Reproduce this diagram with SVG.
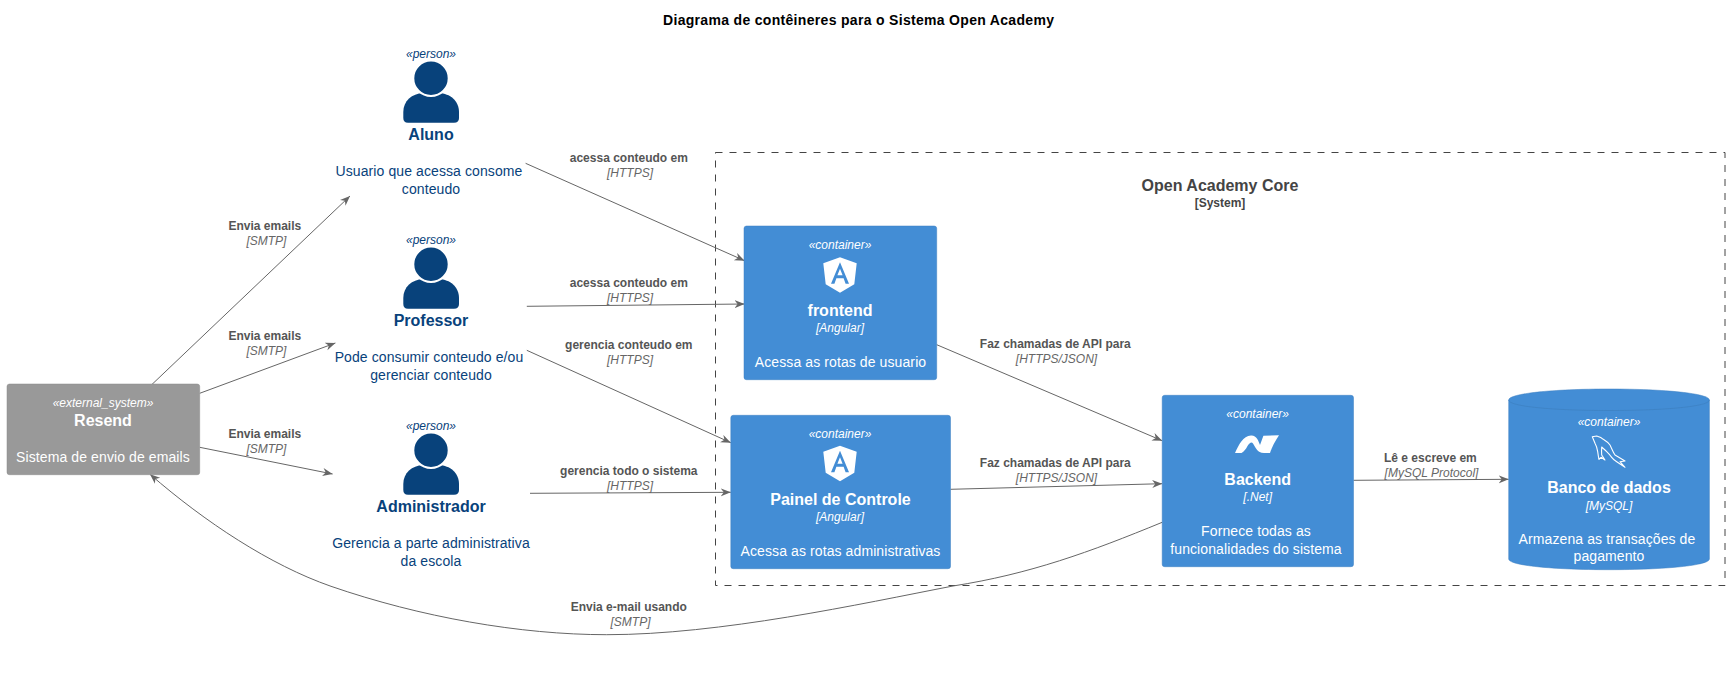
<svg xmlns="http://www.w3.org/2000/svg" width="1730" height="673" viewBox="0 0 1730 673">
<style>
text{font-family:"Liberation Sans",Arial,sans-serif;text-anchor:middle}
.title{font-size:14px;font-weight:bold;fill:#000}
.st{font-size:12px;font-style:italic}
.nm{font-size:16px;font-weight:bold}
.ds{font-size:14px;letter-spacing:.1px}
.w{fill:#fff}
.p{fill:#08427B}
.lb{font-size:12px;font-weight:bold;fill:#555}
.tc{font-size:12px;font-style:italic;fill:#666}
.box{fill:#438DD5;stroke:#3C7FC0;stroke-width:.5}
.cn{fill:none;stroke:#666;stroke-width:1;marker-end:url(#arr)}
</style>
<defs>
<marker id="arr" markerUnits="userSpaceOnUse" markerWidth="12" markerHeight="10" refX="10" refY="4" orient="auto"><path d="M10,4 L0,0 L3,4 L0,8 Z" fill="#666"/></marker>
<g id="person-icon">
<path d="M408,122.7 Q403.3,122.7 403.3,118 L403.3,112 C403.3,101 412,93.3 423,93.3 L439,93.3 C450,93.3 459,101 459,112 L459,118 Q459,122.7 454,122.7 Z" fill="#08427B"/>
<circle cx="431" cy="78.3" r="17.7" fill="#08427B" stroke="#fff" stroke-width="2"/>
</g>
<path id="angular-icon" fill="#fff" fill-rule="evenodd" d="M0,0 L16.7,6 L14.3,27 L0,35.5 L-14.3,27 L-16.7,6 Z M0,5 L-9,26.5 L-5.6,26.5 L-3.6,21 L3.6,21 L5.6,26.5 L9,26.5 Z M0,11.5 L2.6,18 L-2.6,18 Z"/>
</defs>
<text class="title" x="858.5" y="25" textLength="391">Diagrama de contêineres para o Sistema Open Academy</text>
<g id="boundary">
<rect x="715.5" y="152.5" width="1009.5" height="433" fill="none" stroke="#444" stroke-width="1" stroke-dasharray="7,7"/>
<text x="1220" y="190.5" font-size="16" font-weight="bold" fill="#444">Open Academy Core</text>
<text x="1220" y="207" font-size="12" font-weight="bold" fill="#444">[System]</text>
</g>
<g id="connectors">
<path class="cn" d="M151.7,384.7 L350,196"/>
<path class="cn" d="M199.7,393.3 L335.4,343"/>
<path class="cn" d="M199.7,447.3 L332.6,474"/>
<path class="cn" d="M525.6,163.3 L744.6,260.7"/>
<path class="cn" d="M526.8,306.3 L744.6,304"/>
<path class="cn" d="M526.8,350.3 L730.8,442.7"/>
<path class="cn" d="M530,493.3 L730.8,492.3"/>
<path class="cn" d="M936.7,344.7 L1162.2,440.7"/>
<path class="cn" d="M950.5,489.3 L1162.2,483.7"/>
<path class="cn" d="M1353.5,480.3 L1508.7,479.3"/>
<path class="cn" d="M1162.2,522.3 C1090,552 1030,574 953,586 C860,604 720,634.7 606.7,634.7 C520,634.7 420,617 331,586.3 C270,565 205,522 150,474.3"/>
<text class="lb" x="264.8" y="230">Envia emails</text><text class="tc" x="266.4" y="245">[SMTP]</text>
<text class="lb" x="264.8" y="340">Envia emails</text><text class="tc" x="266.4" y="355">[SMTP]</text>
<text class="lb" x="264.8" y="438">Envia emails</text><text class="tc" x="266.4" y="453">[SMTP]</text>
<text class="lb" x="628.8" y="162">acessa conteudo em</text><text class="tc" x="630" y="177">[HTTPS]</text>
<text class="lb" x="628.8" y="287">acessa conteudo em</text><text class="tc" x="630" y="302">[HTTPS]</text>
<text class="lb" x="628.8" y="349">gerencia conteudo em</text><text class="tc" x="630" y="364">[HTTPS]</text>
<text class="lb" x="628.8" y="475">gerencia todo o sistema</text><text class="tc" x="630" y="490">[HTTPS]</text>
<text class="lb" x="1055.3" y="348">Faz chamadas de API para</text><text class="tc" x="1056.5" y="363">[HTTPS/JSON]</text>
<text class="lb" x="1055.3" y="467">Faz chamadas de API para</text><text class="tc" x="1056.5" y="482">[HTTPS/JSON]</text>
<text class="lb" x="1430.4" y="462">Lê e escreve em</text><text class="tc" x="1431.5" y="477">[MySQL Protocol]</text>
<text class="lb" x="628.8" y="611">Envia e-mail usando</text><text class="tc" x="630.5" y="626">[SMTP]</text>
</g>
<g id="aluno">
<text class="st p" x="431" y="57.5">«person»</text>
<use href="#person-icon"/>
<text class="nm p" x="431" y="139.5">Aluno</text>
<text class="ds p" x="429" y="176">Usuario que acessa consome</text>
<text class="ds p" x="431" y="194">conteudo</text>
</g>
<g id="professor">
<text class="st p" x="431" y="243.5">«person»</text>
<use href="#person-icon" y="186"/>
<text class="nm p" x="431" y="325.5">Professor</text>
<text class="ds p" x="429" y="362">Pode consumir conteudo e/ou</text>
<text class="ds p" x="431" y="380">gerenciar conteudo</text>
</g>
<g id="administrador">
<text class="st p" x="431" y="429.5">«person»</text>
<use href="#person-icon" y="372"/>
<text class="nm p" x="431" y="511.5">Administrador</text>
<text class="ds p" x="431" y="548">Gerencia a parte administrativa</text>
<text class="ds p" x="431" y="566">da escola</text>
</g>
<g id="resend">
<rect x="7" y="384" width="192.7" height="90.7" rx="2.5" fill="#999" stroke="#8A8A8A" stroke-width=".5"/>
<text class="st w" x="103" y="406.5">«external_system»</text>
<text class="nm w" x="103" y="426">Resend</text>
<text class="ds w" x="103" y="462">Sistema de envio de emails</text>
</g>
<g id="frontend">
<rect class="box" x="744" y="226" width="192.7" height="153.7" rx="2.5"/>
<text class="st w" x="840" y="248.5">«container»</text>
<use href="#angular-icon" x="840" y="257.3"/>
<text class="nm w" x="840" y="315.5">frontend</text>
<text class="st w" x="840" y="332">[Angular]</text>
<text class="ds w" x="840.5" y="367">Acessa as rotas de usuario</text>
</g>
<g id="painel">
<rect class="box" x="730.8" y="415.3" width="219.7" height="153.4" rx="2.5"/>
<text class="st w" x="840" y="437.5">«container»</text>
<use href="#angular-icon" x="840" y="445.8"/>
<text class="nm w" x="840.5" y="505">Painel de Controle</text>
<text class="st w" x="840" y="521">[Angular]</text>
<text class="ds w" x="840.5" y="556">Acessa as rotas administrativas</text>
</g>
<g id="backend">
<rect class="box" x="1162.2" y="395.3" width="191.3" height="171.4" rx="2.5"/>
<text class="st w" x="1257.7" y="417.5">«container»</text>
<path fill="#fff" d="M1235,453 C1239,444 1243,436 1251,435.4 C1256.5,435 1258.5,441 1260,445 L1263.4,435.7 L1279,435.2 C1275,441 1272,447 1270,453 L1264,453 C1257,453 1255.5,447 1253,443.5 C1251.5,441.5 1249.5,443 1247.5,446 C1246,449 1244,451.5 1241.5,453 Z"/>
<text class="nm w" x="1257.7" y="485">Backend</text>
<text class="st w" x="1257.7" y="501">[.Net]</text>
<text class="ds w" x="1256" y="536">Fornece todas as</text>
<text class="ds w" x="1256" y="554">funcionalidades do sistema</text>
</g>
<g id="banco">
<path d="M1508.7,400 C1508.7,393.5 1553,389 1609,389 C1665,389 1709.4,393.5 1709.4,400 L1709.4,559 C1709.4,565.5 1665,569.7 1609,569.7 C1553,569.7 1508.7,565.5 1508.7,559 Z" fill="#438DD5" stroke="#3C7FC0" stroke-width=".5"/>
<path d="M1508.7,400 C1508.7,406.5 1553,410.5 1609,410.5 C1665,410.5 1709.4,406.5 1709.4,400" fill="none" stroke="#3C7FC0" stroke-width=".7"/>
<text class="st w" x="1609" y="425.5">«container»</text>
<path fill="none" stroke="#fff" stroke-width="1.1" stroke-linejoin="round" d="M1592.3,436.7 L1596.7,436 C1600,437 1602,438 1603.3,439.3 C1606,441 1608.5,443 1610,445 C1612,449 1613,452 1615,455 L1625,461 L1620,461.7 L1625,467.3 L1616.7,461.7 C1614,460 1613,459 1611.7,457.3 C1610,455 1608,453 1606.7,451.7 C1604,449 1603,448 1601.7,447 C1601.5,450 1601.5,452 1601.7,455 L1605,460 L1601,457.3 L1599,459.3 C1598.5,457 1598,454 1597.7,451.7 C1597,448 1596,445 1595,443.3 Z"/>
<text class="nm w" x="1609" y="493">Banco de dados</text>
<text class="st w" x="1609" y="509.5">[MySQL]</text>
<text class="ds w" x="1607" y="544">Armazena as transações de</text>
<text class="ds w" x="1609" y="561">pagamento</text>
</g>
</svg>
